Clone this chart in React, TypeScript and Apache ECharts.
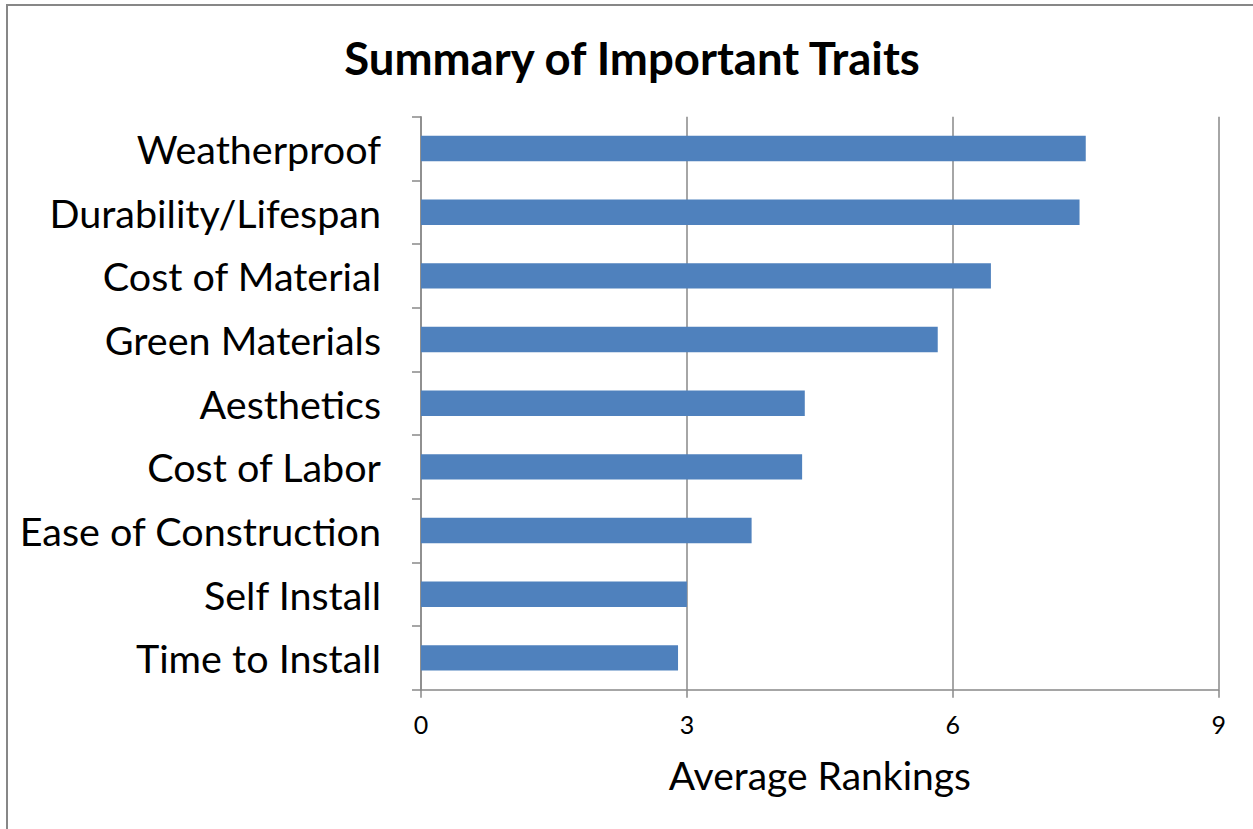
import React, { useEffect, useRef } from "react";
import * as echarts from "echarts";

const categories = [
  "Weatherproof",
  "Durability/Lifespan",
  "Cost of Material",
  "Green Materials",
  "Aesthetics",
  "Cost of Labor",
  "Ease of Construction",
  "Self Install",
  "Time to Install",
];
const rankings = [7.5, 7.43, 6.43, 5.83, 4.33, 4.3, 3.73, 3.0, 2.9];
const xTicks = [0, 3, 6, 9];

const FONT = "Lato";

export default function App() {
  const ref = useRef<HTMLDivElement>(null);
  useEffect(() => {
    document.body.style.margin = "0";
    const chart = echarts.init(ref.current!, undefined, { renderer: "svg" });
    chart.setOption({
      animation: false,
      backgroundColor: "#ffffff",
      title: {
        text: "Summary of Important Traits",
        left: 627,
        top: 52,
        textAlign: "center",
        textVerticalAlign: "middle",
        textStyle: { fontFamily: FONT, fontSize: 45.5, fontWeight: "bold", color: "#000" },
      },
      graphic: [
        {
          type: "rect",
          shape: { x: 7, y: 5, width: 1300, height: 900 },
          style: { fill: "none", stroke: "#878787", lineWidth: 2 },
          silent: true,
        },
      ],
      grid: { left: 421, right: 34.3, top: 116.7, bottom: 139.3, containLabel: false },
      xAxis: {
        type: "value",
        min: xTicks[0],
        max: xTicks[xTicks.length - 1],
        interval: 3,
        name: "Average Rankings",
        nameLocation: "middle",
        nameGap: 66,
        nameTextStyle: { fontFamily: FONT, fontSize: 39, color: "#000" },
        axisLine: { show: true, lineStyle: { color: "#888", width: 1.5 } },
        axisTick: { show: true, length: 8, lineStyle: { color: "#888", width: 1.5 } },
        axisLabel: { fontFamily: FONT, fontSize: 25, color: "#000", margin: 22 },
        splitLine: { show: true, lineStyle: { color: "#888", width: 1.5 } },
      },
      yAxis: {
        type: "category",
        data: categories,
        inverse: true,
        axisLine: { show: true, lineStyle: { color: "#888", width: 1.5 } },
        axisTick: { show: true, length: 9, alignWithLabel: false, lineStyle: { color: "#888", width: 1.5 } },
        axisLabel: { fontFamily: FONT, fontSize: 39.5, color: "#000", margin: 40 },
        splitLine: { show: false },
      },
      series: [
        {
          type: "bar",
          data: rankings,
          barWidth: "40%",
          itemStyle: { color: "#4F81BD" },
        },
      ],
    });
    return () => chart.dispose();
  }, []);
  return <div ref={ref} style={{ width: 1253, height: 829 }} />;
}
